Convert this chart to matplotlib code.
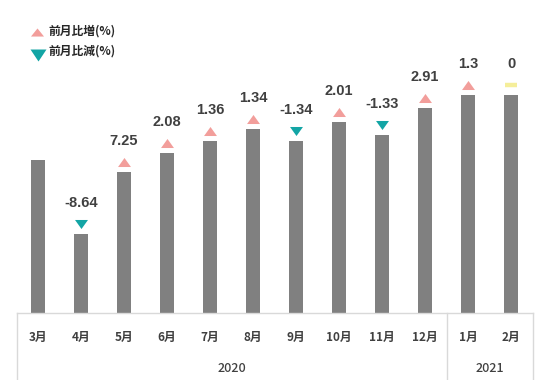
import matplotlib
matplotlib.use("Agg")
import matplotlib.pyplot as plt
from matplotlib.path import Path
from matplotlib.transforms import offset_copy
import matplotlib.transforms as mtransforms

plt.rcParams['font.family'] = ['Noto Sans CJK JP', 'DejaVu Sans']

# ---- data ----
months = ["3月", "4月", "5月", "6月", "7月", "8月", "9月", "10月", "11月", "12月", "1月", "2月"]
years = ["2020", "2021"]
year_counts = [10, 2]
values = [153, 79, 141, 160, 172, 184, 172, 191, 178, 205, 218, 218]  # relative level (axis hidden)
changes = [None, -8.64, 7.25, 2.08, 1.36, 1.34, -1.34, 2.01, -1.33, 2.91, 1.3, 0]
change_labels = [None, "-8.64", "7.25", "2.08", "1.36", "1.34", "-1.34", "2.01", "-1.33", "2.91", "1.3", "0"]
legend_labels = ["前月比増(%)", "前月比減(%)"]

BAR = "#808080"
UP = "#F29E9B"
DOWN = "#13A5A5"
ZERO = "#F5EE9A"
LINE = "#D9D9D9"
TXT = "#404040"

W, H = 550, 380
fig = plt.figure(figsize=(W / 100, H / 100), dpi=100)
ax = fig.add_axes([16.5 / W, 67 / H, 516 / W, 313 / H])
x = list(range(len(months)))
ax.bar(x, values, width=0.33, color=BAR, zorder=2)
ax.set_xlim(-0.5, len(months) - 0.5)
ax.set_ylim(0, 313)
for s in ["top", "right", "left"]:
    ax.spines[s].set_visible(False)
ax.spines["bottom"].set_color(LINE)
ax.spines["bottom"].set_linewidth(1)
ax.set_yticks([])
ax.set_xticks(x)
ax.set_xticklabels(months, fontsize=8.5, fontweight="bold", color=TXT)
ax.tick_params(axis="x", length=0, pad=13)


def tri(h, up=True):
    s = 1 if up else -1
    return Path([(-1, -s * h), (1, -s * h), (0, s * h), (-1, -s * h)],
                [Path.MOVETO, Path.LINETO, Path.LINETO, Path.CLOSEPOLY])


up_marker = tri(0.7, True)
down_marker = tri(0.7, False)

mk_trans = offset_copy(ax.transData, fig=fig, x=0, y=10, units="dots")
for i, (v, c, lab) in enumerate(zip(values, changes, change_labels)):
    if c is None:
        continue
    if c > 0:
        ax.plot([i], [v], marker=up_marker, ms=9.3, color=UP, mec="none",
                transform=mk_trans, clip_on=False, zorder=3)
    elif c < 0:
        ax.plot([i], [v], marker=down_marker, ms=9.3, color=DOWN, mec="none",
                transform=mk_trans, clip_on=False, zorder=3)
    else:
        ax.plot([i], [v], marker="_", ms=8.8, mew=3.2, color=ZERO,
                transform=mk_trans, clip_on=False, zorder=3)
    ax.annotate(lab, (i, v), xytext=(0, 31), textcoords="offset pixels",
                ha="center", va="center", fontsize=10.5, fontweight="bold",
                color=TXT, family=["Liberation Sans", "DejaVu Sans"])

# category frame: vertical separators below axis
blend = mtransforms.blended_transform_factory(ax.transData, fig.transFigure)
bounds = [-0.5]
for n in year_counts:
    bounds.append(bounds[-1] + n)
for b in bounds:
    ax.plot([b, b], [67 / H, 0], transform=blend, color=LINE, lw=1, clip_on=False)
for yr, b0, b1 in zip(years, bounds[:-1], bounds[1:]):
    ax.text((b0 + b1) / 2, 12 / H, yr, transform=blend, ha="center", va="center",
            fontsize=9, fontweight="medium", color=TXT)

# legend
fig.lines.append(plt.Line2D([36.5 / W], [1 - 32 / H], marker=tri(0.62, True), ms=9.4, color=UP,
                            mec="none", transform=fig.transFigure, linestyle="none"))
fig.lines.append(plt.Line2D([38 / W], [1 - 55 / H], marker=tri(0.75, False), ms=11.5, color=DOWN,
                            mec="none", transform=fig.transFigure, linestyle="none"))
fig.text(48 / W, 1 - 31 / H, legend_labels[0], ha="left", va="center", fontsize=8.5,
         fontweight="bold", color="#262626")
fig.text(48 / W, 1 - 51 / H, legend_labels[1], ha="left", va="center", fontsize=8.5,
         fontweight="bold", color="#262626")

fig.savefig("out.png", dpi=100)
